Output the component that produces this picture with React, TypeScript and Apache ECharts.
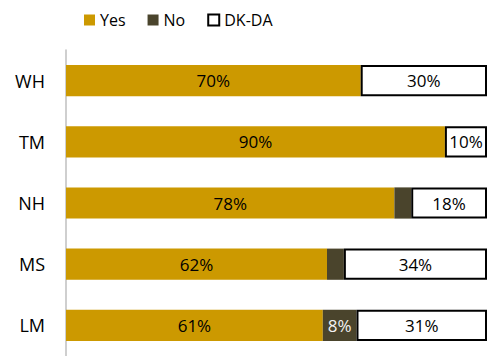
import React, { useEffect, useRef } from "react";
import * as echarts from "echarts";

const categories = ["WH", "TM", "NH", "MS", "LM"];
const yesValues = [70, 90, 78, 62, 61];
const noValues = [0, 0, 4, 4, 8];
const dkdaValues = [30, 10, 18, 34, 31];

const FONT = "'Open Sans', sans-serif";

export default function App() {
  const ref = useRef<HTMLDivElement>(null);

  useEffect(() => {
    document.body.style.margin = "0";
    const chart = echarts.init(ref.current!, null, { renderer: "svg" });
    const labelBase = {
      show: true,
      position: "inside",
      fontFamily: FONT,
      fontSize: 17,
    };
    chart.setOption({
      animation: false,
      backgroundColor: "#ffffff",
      textStyle: { fontFamily: FONT },
      legend: {
        top: 7,
        left: 79,
        icon: "rect",
        itemWidth: 11,
        itemHeight: 11,
        itemGap: 22,
        textStyle: { fontFamily: FONT, fontSize: 16, color: "#000" },
        data: ["Yes", "No", "DK-DA"],
      },
      grid: { left: 66, right: -3, top: 50, height: 309, containLabel: false },
      xAxis: {
        type: "value",
        min: 0,
        max: 100,
        show: false,
      },
      yAxis: {
        type: "category",
        inverse: true,
        data: categories,
        axisLine: { show: true, lineStyle: { color: "#bfbfbf", width: 1.5 } },
        axisTick: { show: false },
        axisLabel: {
          fontFamily: FONT,
          fontSize: 18,
          color: "#000",
          margin: 21,
        },
      },
      series: [
        {
          name: "Yes",
          type: "bar",
          stack: "total",
          barWidth: "51%",
          data: yesValues,
          itemStyle: { color: "#cc9900" },
          label: { ...labelBase, color: "#000", formatter: (p: any) => `${p.value}%` },
        },
        {
          name: "No",
          type: "bar",
          stack: "total",
          data: noValues,
          itemStyle: { color: "#4a442c" },
          label: {
            ...labelBase,
            color: "#f2f2f2",
            formatter: (p: any) => (p.value >= 5 ? `${p.value}%` : ""),
          },
        },
        {
          name: "DK-DA",
          type: "bar",
          stack: "total",
          data: dkdaValues,
          itemStyle: { color: "#ffffff", borderColor: "#000000", borderWidth: 2 },
          label: { ...labelBase, color: "#000", formatter: (p: any) => `${p.value}%` },
        },
      ],
    });
    return () => chart.dispose();
  }, []);

  return (
    <div
      ref={ref}
      style={{ position: "fixed", left: 0, top: 0, width: 487, height: 356 }}
    />
  );
}
